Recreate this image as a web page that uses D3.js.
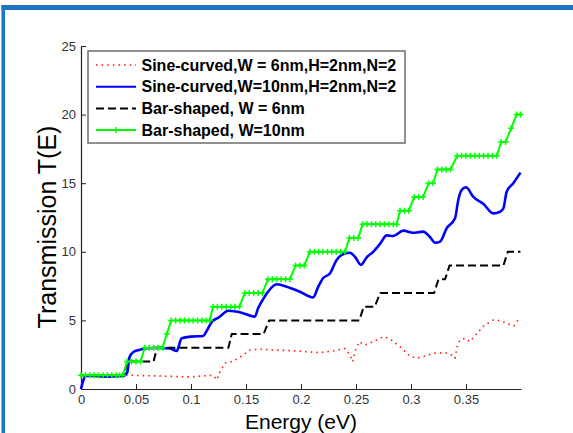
<!DOCTYPE html>
<html lang="en">
<head>
<meta charset="utf-8">
<title>Transmission T(E)</title>
<script src="https://cdn.jsdelivr.net/npm/d3@7/dist/d3.min.js"></script>
<style>
  body { margin: 0; background: #fff; }
  svg { display: block; font-family: "Liberation Sans", Arial, sans-serif; }
</style>
</head>
<body>
<svg id="chart"></svg>
<script>
const xTicks = [0, 0.05, 0.1, 0.15, 0.2, 0.25, 0.3, 0.35],
  xTickLabels = ['0', '0.05', '0.1', '0.15', '0.2', '0.25', '0.3', '0.35'],
  yTicks = [0, 5, 10, 15, 20, 25],
  legendLabels = ['Sine-curved,W = 6nm,H=2nm,N=2', 'Sine-curved,W=10nm,H=2nm,N=2', 'Bar-shaped, W = 6nm', 'Bar-shaped, W=10nm'];

// Sine-curved, W = 6nm
const redE = [0, 0.02, 0.045, 0.07, 0.09, 0.1, 0.11, 0.12, 0.1234, 0.126, 0.131, 0.138, 0.146, 0.1536, 0.163, 0.175, 0.19, 0.205, 0.217, 0.229, 0.24, 0.2445, 0.247, 0.249, 0.253, 0.258, 0.264, 0.27, 0.275, 0.281, 0.29, 0.299, 0.305, 0.311, 0.32, 0.331, 0.337, 0.34, 0.342, 0.3445, 0.349, 0.3536, 0.36, 0.367, 0.375, 0.381, 0.3885, 0.3936, 0.399];
const redT = [1, 1, 1, 0.95, 0.9, 0.88, 0.95, 1, 0.66, 1.2, 1.9, 2.0, 2.4, 2.84, 2.9, 2.84, 2.8, 2.72, 2.65, 2.77, 2.95, 2.48, 1.99, 2.72, 3.45, 3.2, 3.4, 3.62, 3.81, 3.64, 3.08, 2.4, 2.24, 2.36, 2.6, 2.65, 2.48, 2.24, 3.08, 3.57, 3.7, 3.45, 4.06, 4.66, 5.03, 4.98, 4.74, 4.6, 5.23];

// Sine-curved, W = 10nm
const blueE = [0, 0.002, 0.004, 0.01, 0.02, 0.03, 0.038, 0.042, 0.044, 0.0476, 0.053, 0.0597, 0.07, 0.081, 0.087, 0.0915, 0.1, 0.111, 0.114, 0.119, 0.125, 0.134, 0.146, 0.158, 0.161, 0.166, 0.17, 0.178, 0.187, 0.199, 0.211, 0.2157, 0.22, 0.2264, 0.2324, 0.237, 0.2445, 0.249, 0.2545, 0.2597, 0.2657, 0.272, 0.278, 0.284, 0.293, 0.302, 0.311, 0.317, 0.322, 0.3264, 0.3324, 0.34, 0.343, 0.346, 0.35, 0.3567, 0.3657, 0.3748, 0.381, 0.384, 0.387, 0.393, 0.3995];
const blueT = [0, 0.6, 0.95, 0.95, 0.9, 0.92, 0.95, 1.2, 2.3, 2.7, 2.85, 2.97, 3.0, 2.95, 2.77, 3.7, 3.82, 3.86, 4.2, 4.9, 5.2, 5.7, 5.56, 5.27, 5.88, 6.6, 7.09, 7.63, 7.46, 7.09, 6.68, 7.46, 8.07, 8.43, 9.4, 9.77, 9.93, 9.64, 9.04, 9.6, 10.0, 10.6, 11.2, 11.15, 11.54, 11.39, 11.47, 11.1, 10.66, 10.74, 11.71, 12.44, 13.78, 14.5, 14.7, 14.0, 13.5, 12.8, 12.92, 13.17, 14.38, 15.0, 15.77];

// Bar-shaped, W = 6nm
const blackE = [0, 0.039, 0.042, 0.066, 0.069, 0.134, 0.137, 0.166, 0.171, 0.253, 0.257, 0.267, 0.272, 0.321, 0.325, 0.331, 0.335, 0.384, 0.388, 0.3995];
const blackT = [1, 1, 2, 2, 3, 3, 4, 4, 5, 5, 6, 6, 7, 7, 8, 8, 9, 9, 10, 10];

// Bar-shaped, W = 10nm
const greenE = [0, 0.004, 0.008, 0.012, 0.016, 0.02, 0.024, 0.028, 0.032, 0.035, 0.038,
  0.042, 0.046, 0.05, 0.054,
  0.058, 0.062, 0.066, 0.07, 0.074,
  0.078,
  0.082, 0.086, 0.09, 0.094, 0.098, 0.102, 0.106, 0.11, 0.114, 0.117,
  0.12, 0.124, 0.128, 0.132, 0.136, 0.14, 0.144,
  0.149, 0.153, 0.157, 0.161, 0.165,
  0.17, 0.174, 0.178, 0.182, 0.186, 0.19,
  0.195, 0.199, 0.203,
  0.208, 0.212, 0.216, 0.22, 0.224, 0.228, 0.232, 0.236, 0.24,
  0.244, 0.248, 0.252,
  0.256, 0.26, 0.264, 0.268, 0.272, 0.276, 0.28, 0.284, 0.287,
  0.29, 0.294, 0.298,
  0.303, 0.307, 0.311,
  0.316, 0.32,
  0.324, 0.328, 0.332, 0.336,
  0.342, 0.346, 0.35, 0.354, 0.358, 0.362, 0.366, 0.37, 0.374, 0.378,
  0.382, 0.386,
  0.391,
  0.396, 0.3995];
const greenT = [1, 1, 1, 1, 1, 1, 1, 1, 1, 1, 1,
  2, 2, 2, 2,
  3, 3, 3, 3, 3,
  4,
  5, 5, 5, 5, 5, 5, 5, 5, 5, 5,
  6, 6, 6, 6, 6, 6, 6,
  7, 7, 7, 7, 7,
  8, 8, 8, 8, 8, 8,
  9, 9, 9,
  10, 10, 10, 10, 10, 10, 10, 10, 10,
  11, 11, 11,
  12, 12, 12, 12, 12, 12, 12, 12, 12,
  13, 13, 13,
  14, 14, 14,
  15, 15,
  16, 16, 16, 16,
  17, 17, 17, 17, 17, 17, 17, 17, 17, 17,
  18, 18,
  19,
  20, 20];

const width = 573,
  height = 433;

const svg = d3.select('#chart')
  .attr('width', width)
  .attr('height', height);

svg.append('rect').attr('width', width).attr('height', height).attr('fill', '#fff');

// window frame
svg.append('rect').attr('x', 1.5).attr('y', 5).attr('width', width).attr('height', 5).attr('fill', '#1c74c3');
svg.append('rect').attr('x', 1.5).attr('y', 5).attr('width', 3.5).attr('height', height).attr('fill', '#1c74c3');

const x = d3.scaleLinear()
  .domain([0, 0.4])
  .range([81, 521]);

const y = d3.scaleLinear()
  .domain([0, 25])
  .range([389, 46]);

const line = d3.line()
  .x((d) => x(d[0]))
  .y((d) => y(d[1]));

const xAxis = svg.append('g')
  .attr('transform', `translate(0,${y(0)})`)
  .call(d3.axisBottom(x)
    .tickValues(xTicks)
    .tickFormat((d, i) => xTickLabels[i])
    .tickSizeInner(-5)
    .tickSizeOuter(0)
    .tickPadding(6));

const yAxis = svg.append('g')
  .attr('transform', `translate(${x(0)},0)`)
  .call(d3.axisLeft(y)
    .tickValues(yTicks)
    .tickSizeInner(-5)
    .tickSizeOuter(0)
    .tickPadding(5));

[xAxis, yAxis].forEach((g) => {
  g.select('.domain').attr('stroke', '#222').attr('stroke-width', 1.2);
  g.selectAll('.tick line').attr('stroke', '#222');
  g.selectAll('.tick text')
    .attr('fill', '#333')
    .style('font-size', '13px')
    .style('font-family', '"Liberation Sans", Arial, sans-serif');
});

svg.append('text')
  .attr('x', 301)
  .attr('y', 429)
  .attr('text-anchor', 'middle')
  .style('font-size', '21px')
  .text('Energy (eV)');

svg.append('text')
  .attr('transform', 'translate(56,227) rotate(-90)')
  .attr('text-anchor', 'middle')
  .style('font-size', '25px')
  .text('Transmission T(E)');

const series = [
  {data: d3.zip(redE, redT), color: '#ff2020', width: 1.6, dash: '1.6,4', curve: d3.curveLinear},
  {data: d3.zip(blueE, blueT), color: '#0000ff', width: 2.6, dash: null, curve: d3.curveMonotoneX},
  {data: d3.zip(blackE, blackT), color: '#000', width: 2, dash: '8,4', curve: d3.curveLinear},
  {data: d3.zip(greenE, greenT), color: '#00ff00', width: 2, dash: null, curve: d3.curveLinear}
];

series.forEach((s) => {
  svg.append('path')
    .datum(s.data)
    .attr('fill', 'none')
    .attr('stroke', s.color)
    .attr('stroke-width', s.width)
    .attr('stroke-dasharray', s.dash)
    .attr('stroke-linejoin', 'round')
    .attr('d', line.curve(s.curve));
});

svg.append('g')
  .selectAll('path')
  .data(series[3].data)
  .enter().append('path')
  .attr('transform', (d) => `translate(${x(d[0])},${y(d[1])})`)
  .attr('d', 'M-3,0H3M0,-3V3')
  .attr('stroke', '#00ff00')
  .attr('stroke-width', 1.5);

// legend
const legend = svg.append('g');

legend.append('rect')
  .attr('x', 88)
  .attr('y', 51)
  .attr('width', 317)
  .attr('height', 92)
  .attr('fill', '#fff')
  .attr('stroke', '#6e6e6e')
  .attr('stroke-width', 1.5);

const rows = legend.selectAll('.row')
  .data(series)
  .enter().append('g')
  .attr('class', 'row')
  .attr('transform', (d, i) => `translate(0,${65 + i * 21.7})`);

rows.append('line')
  .attr('x1', 96)
  .attr('x2', 136)
  .attr('stroke', (d) => d.color)
  .attr('stroke-width', (d) => Math.min(d.width, 2))
  .attr('stroke-dasharray', (d) => d.dash);

rows.filter((d, i) => i === 3).append('path')
  .attr('d', 'M113,0H119M116,-3V3')
  .attr('stroke', '#00ff00')
  .attr('stroke-width', 1.4);

rows.append('text')
  .attr('x', 141.5)
  .attr('dy', '0.36em')
  .style('font-size', '16px')
  .style('font-weight', 'bold')
  .text((d, i) => legendLabels[i]);
</script>
</body>
</html>
